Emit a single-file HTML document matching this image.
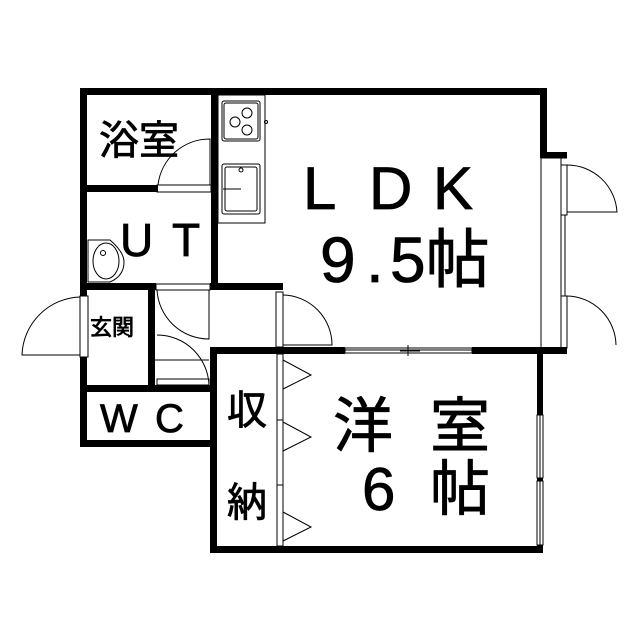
<!DOCTYPE html>
<html><head><meta charset="utf-8"><style>
html,body{margin:0;padding:0;background:#fff;}
svg{display:block;}
text{font-family:"Liberation Sans","Noto Sans CJK JP",sans-serif;fill:#000;stroke:#000;stroke-width:0.8;}
</style></head><body>
<svg width="639" height="640" viewBox="0 0 639 640" xmlns="http://www.w3.org/2000/svg">
<g fill="#000">
<rect x="80" y="88" width="467" height="7"/>
<rect x="540" y="88" width="7" height="70"/>
<rect x="540" y="152" width="27" height="6"/>
<rect x="80" y="88" width="7" height="208"/>
<rect x="80" y="357" width="7" height="89"/>
<rect x="211" y="88" width="7" height="202"/>
<rect x="80" y="185" width="78" height="7"/>
<rect x="80" y="283" width="76" height="7"/>
<rect x="210" y="283" width="73" height="7"/>
<rect x="148" y="283" width="7" height="105"/>
<rect x="80" y="385" width="137" height="7"/>
<rect x="80" y="440" width="137" height="7"/>
<rect x="210" y="347" width="7" height="206"/>
<rect x="210" y="347" width="135" height="7"/>
<rect x="472" y="347" width="95" height="7"/>
<rect x="276" y="347" width="7" height="7"/>
<rect x="537" y="350" width="6" height="65"/>
<rect x="537" y="545" width="6" height="8"/>
<rect x="537" y="478" width="6" height="3"/>
<rect x="210" y="546" width="333" height="7"/>
</g>
<g fill="none" stroke="#000" stroke-width="1">
<rect x="541" y="158" width="20" height="190"/>
<line x1="561" y1="158" x2="567" y2="158"/>
<rect x="561" y="165" width="6" height="50"/>
<rect x="561" y="296" width="6" height="52"/>
<line x1="565" y1="215" x2="565" y2="296"/>
<path d="M567 165 A50 50 0 0 1 617 212 L567 212"/>
<path d="M567 296 A50 50 0 0 1 616 345"/>
<rect x="537" y="415" width="6" height="63"/>
<rect x="537" y="481" width="6" height="64"/>
<line x1="540" y1="415" x2="540" y2="545"/>
<rect x="345" y="348" width="127" height="5"/>
<line x1="345" y1="350" x2="472" y2="350"/>
<line x1="408" y1="345" x2="408" y2="356"/>
<line x1="400" y1="351" x2="420" y2="351"/>
<rect x="276" y="292" width="7" height="55"/>
<path d="M283 295 A50 50 0 0 1 332 345 L283 345"/>
<rect x="277" y="354" width="6" height="192"/>
<line x1="277" y1="420" x2="283" y2="420"/>
<line x1="277" y1="485" x2="283" y2="485"/>
<path d="M283 360 L311 375 L283 389"/>
<path d="M283 422 L311 437 L283 451"/>
<path d="M283 512 L311 527 L283 541"/>
<rect x="157" y="185" width="54" height="7"/>
<path d="M158 185 A52 52 0 0 1 210 139 L210 185"/>
<rect x="156" y="284" width="54" height="6"/>
<path d="M157 290 A52 52 0 0 0 209 339 L209 290"/>
<path d="M157 335 A52 52 0 0 1 209 387"/>
<rect x="157" y="379" width="52" height="6"/>
<line x1="155" y1="360" x2="209" y2="360"/>
<rect x="80" y="296" width="8" height="61"/>
<path d="M80 297 A60 60 0 0 0 22 355 L80 355"/>
<rect x="218" y="95" width="47" height="128"/>
<rect x="222" y="101" width="38" height="40" rx="2"/>
<rect x="224" y="103" width="34" height="36" rx="2"/>
<circle cx="247" cy="113" r="5"/><circle cx="235" cy="122" r="5"/><circle cx="247" cy="130" r="5"/>
<circle cx="266" cy="122" r="1.5"/>
<rect x="222" y="164" width="38" height="50" rx="2"/>
<rect x="225" y="167" width="32" height="44" rx="2"/>
<circle cx="241" cy="170" r="2"/>
<line x1="223" y1="189" x2="241" y2="189"/>
<path d="M88 240 L110 240 Q124 252 124 262 Q124 276 110 282 L88 282 Z"/>
<ellipse cx="106" cy="261" rx="13" ry="18"/>
<circle cx="103" cy="253" r="2.5"/>
</g>
<g font-size="40">
<text x="99" y="154">浴室</text>
<text x="120" y="256" font-size="46">U</text><text x="172" y="256" font-size="46">T</text>
<text x="90" y="335" font-size="22">玄関</text>
<text x="100" y="432">W</text><text x="155" y="432">C</text>
<text x="227" y="424">収</text>
<text x="227" y="516">納</text>
</g>
<g font-size="60">
<text x="303" y="209">L</text><text x="369" y="209">D</text><text x="433" y="209">K</text>
<text x="320" y="282" font-size="64">9</text><text x="366" y="282" font-size="64">.</text><text x="390" y="282" font-size="64">5帖</text>
<text x="333" y="447">洋</text><text x="430" y="447">室</text>
<text x="362" y="510">6</text><text x="430" y="510">帖</text>
</g>
</svg>
</body></html>
